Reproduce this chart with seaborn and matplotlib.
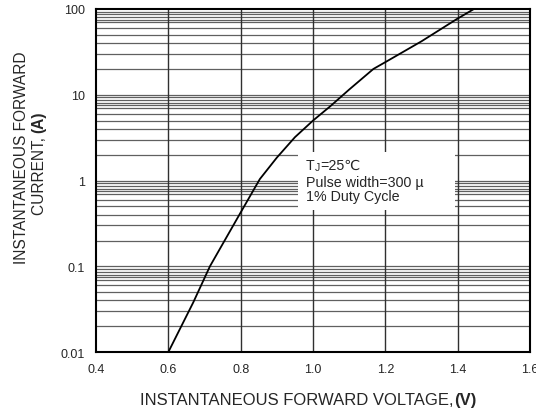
import numpy as np
import pandas as pd
import seaborn as sns
import matplotlib.pyplot as plt
from matplotlib.patches import Rectangle

# forward characteristic
voltage = [0.6, 0.669, 0.715, 0.795, 0.853, 0.9, 0.95, 1.0, 1.047, 1.1, 1.167, 1.2, 1.3, 1.397, 1.445]
current = [0.01, 0.038, 0.10, 0.39, 1.04, 1.85, 3.2, 5.0, 7.3, 11.5, 20, 24, 42, 76, 100]

x_ticks = [0.4, 0.6, 0.8, 1.0, 1.2, 1.4, 1.6]
x_labels = ['0.4', '0.6', '0.8', '1.0', '1.2', '1.4', '1.6']
y_ticks = [0.01, 0.1, 1, 10, 100]
y_labels = ['0.01', '0.1', '1', '10', '100']
decade_lines = [2, 3, 4, 5, 6, 7, 7.5, 8, 8.7, 9.3]

sns.set_style('white')
plt.rcParams['font.family'] = ['Liberation Sans', 'DejaVu Sans']

df = pd.DataFrame({'V': voltage, 'I': current})

fig = plt.figure(figsize=(5.36, 4.14), dpi=100)
ax = fig.add_axes([0.179, 0.147, 0.810, 0.829])

# log-paper grid
for d in [0.01, 0.1, 1, 10]:
    for m in decade_lines:
        ax.axhline(d * m, color='#606060', lw=0.9, zorder=1)
    ax.axhline(d, color='#606060', lw=0.9, zorder=1)
for xv in x_ticks[1:-1]:
    ax.axvline(xv, color='#303030', lw=1.0, zorder=1)

sns.lineplot(data=df, x='V', y='I', color='black', lw=1.3, ax=ax, zorder=3)

ax.set_yscale('log')
ax.set_xlim(0.4, 1.6)
ax.set_ylim(0.01, 100)
ax.set_xticks(x_ticks)
ax.set_xticklabels(x_labels)
ax.set_yticks(y_ticks)
ax.set_yticklabels(y_labels)
ax.minorticks_off()
ax.tick_params(length=0, labelsize=9, pad=8)
ax.set_xlabel('')
ax.set_ylabel('')

for s in ax.spines.values():
    s.set_color('black')
    s.set_linewidth(1.5)

# axis titles, with the unit in bold
xl = fig.text(0.262, 0.022, 'INSTANTANEOUS FORWARD VOLTAGE,', fontsize=12, ha='left', va='baseline')
ax.annotate('(V)', xy=(1, 0), xycoords=xl, fontsize=12, fontweight='bold', ha='left', va='bottom')

fig.text(0.041, 0.62, 'INSTANTANEOUS FORWARD', fontsize=11.2, rotation=90, ha='center', va='center')
yl = fig.text(0.073, 0.58, 'CURRENT, ', fontsize=11.2, rotation=90, ha='center', va='center')
ax.annotate('(A)', xy=(0.5, 1), xycoords=yl, fontsize=11.2, fontweight='bold', rotation=90,
            ha='center', va='bottom')

# condition note on a white patch
ax.add_patch(Rectangle((0.465, 0.414), 0.362, 0.169, transform=ax.transAxes,
                       facecolor='white', edgecolor='none', zorder=4))
t = ax.text(0.484, 0.5335, 'T', transform=ax.transAxes, fontsize=10.3, va='baseline', zorder=5)
j = ax.annotate('J', xy=(1, 0), xycoords=t, fontsize=7.5, va='bottom', zorder=5)
ax.annotate('=25\u2103', xy=(1, 0), xycoords=j, fontsize=10.3, va='bottom', zorder=5)
ax.text(0.484, 0.4854, 'Pulse width=300 \u00b5', transform=ax.transAxes, fontsize=10.3,
        va='baseline', zorder=5)
ax.text(0.484, 0.443, '1% Duty Cycle', transform=ax.transAxes, fontsize=10.3,
        va='baseline', zorder=5)

fig.savefig('out.png', dpi=100)
